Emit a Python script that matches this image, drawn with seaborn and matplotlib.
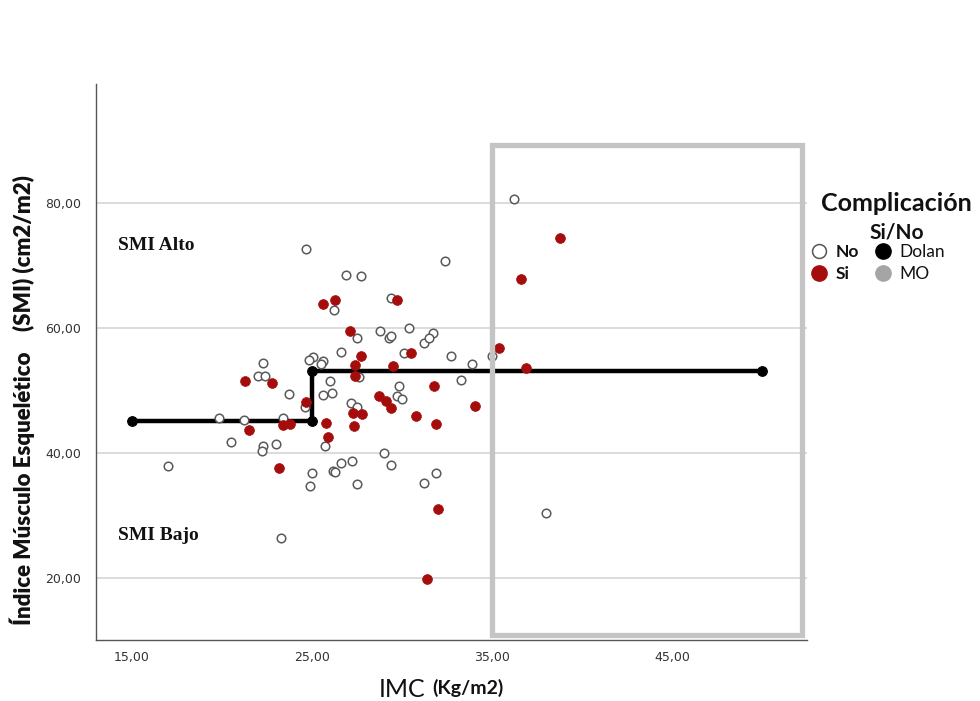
import matplotlib
matplotlib.use('Agg')
import matplotlib.pyplot as plt
import seaborn as sns
import pandas as pd
from matplotlib.patches import Rectangle
from matplotlib.lines import Line2D
from matplotlib.ticker import FuncFormatter

# ---- data ----
no_imc = [36.2, 24.65, 26.87, 27.7, 32.4, 26.2, 29.4, 27.5, 28.8, 29.3, 29.4, 30.4, 31.2,
          31.7, 31.5, 26.6, 30.1, 32.7, 35.0, 25.05, 24.85, 25.6, 25.5, 27.6, 33.9, 33.3,
          29.85, 29.7, 30.0, 26.0, 25.6, 26.1, 24.6, 27.15, 27.5, 22.3, 22.0, 22.4, 23.7,
          19.85, 21.2, 23.4, 20.5, 22.3, 22.2, 23.0, 25.7, 25.0, 24.9, 26.15, 26.3, 26.6,
          27.2, 27.5, 29.0, 29.4, 31.2, 31.9, 23.3, 17.0, 38.0]
no_smi = [80.6, 72.6, 68.4, 68.3, 70.6, 62.8, 64.7, 58.3, 59.5, 58.3, 58.6, 59.9, 57.6,
          59.2, 58.3, 56.1, 55.9, 55.4, 55.4, 55.3, 54.8, 54.6, 54.1, 52.1, 54.2, 51.6,
          50.6, 49.0, 48.5, 51.5, 49.2, 49.6, 47.25, 48.0, 47.25, 54.35, 52.2, 52.3, 49.3,
          45.5, 45.25, 45.55, 41.65, 41.0, 40.2, 41.4, 41.0, 36.8, 34.6, 37.0, 36.85, 38.4,
          38.6, 35.0, 39.9, 38.0, 35.2, 36.7, 26.3, 37.9, 30.4]

si_imc = [38.8, 36.6, 35.4, 36.9, 25.6, 26.3, 29.7, 27.1, 27.7, 30.5, 27.4, 27.4, 29.5,
          31.8, 24.65, 28.7, 29.1, 29.4, 27.3, 27.8, 30.8, 34.05, 25.8, 27.35, 31.9, 21.5,
          23.4, 23.75, 25.9, 23.15, 32.0, 31.4, 21.3, 22.8]
si_smi = [74.4, 67.8, 56.8, 53.6, 63.7, 64.4, 64.4, 59.4, 55.5, 56.0, 54.0, 52.3, 53.8,
          50.7, 48.05, 49.0, 48.3, 47.1, 46.3, 46.2, 45.8, 47.4, 44.75, 44.3, 44.6, 43.6,
          44.4, 44.6, 42.5, 37.6, 31.0, 19.7, 51.4, 51.15]

dolan_imc = [15, 25, 25, 50]
dolan_smi = [45, 45, 53, 53]

x_ticks = [15, 25, 35, 45]
y_ticks = [20, 40, 60, 80]

RED = '#a50d0d'

sns.set_theme(style='white')
plt.rcParams['font.family'] = ['Lato', 'DejaVu Sans']

fig = plt.figure(figsize=(9.8, 7.01), dpi=100)
ax = fig.add_axes([0.098, 0.087, 0.7255, 0.7935])

ax.set_xlim(13, 52.5)
ax.set_ylim(10, 99)

# Dolan cut-off line
sns.lineplot(x=dolan_imc, y=dolan_smi, ax=ax, estimator=None, sort=False,
             color='black', linewidth=3.2, marker='o', markersize=7,
             markeredgecolor='black', zorder=3, legend=False)

df_no = pd.DataFrame({'IMC': no_imc, 'SMI': no_smi})
df_si = pd.DataFrame({'IMC': si_imc, 'SMI': si_smi})
sns.scatterplot(data=df_no, x='IMC', y='SMI', ax=ax, s=38, color='white',
                edgecolor='#5a5a5a', linewidth=1.1, zorder=4, legend=False)
sns.scatterplot(data=df_si, x='IMC', y='SMI', ax=ax, s=50, color=RED,
                edgecolor=RED, linewidth=0.5, zorder=5, legend=False)

# grey box for obesity region
ax.add_patch(Rectangle((35, 10.8), 17.2, 78.4, fill=False, edgecolor='#c4c4c4',
                       linewidth=3.8, zorder=6, clip_on=False))

# axes styling
ax.set_xticks(x_ticks)
ax.set_yticks(y_ticks)
fmt = FuncFormatter(lambda v, p: f"{v:.2f}".replace('.', ','))
ax.xaxis.set_major_formatter(fmt)
ax.yaxis.set_major_formatter(fmt)
ax.tick_params(axis='both', length=0, labelsize=9, labelcolor='#333333')
ax.tick_params(axis='y', pad=11)
ax.tick_params(axis='x', pad=8)
for lab in ax.get_xticklabels() + ax.get_yticklabels():
    lab.set_family('DejaVu Sans')
ax.yaxis.grid(True, color='#d6d6d6', linewidth=1.2)
ax.xaxis.grid(False)
ax.set_axisbelow(True)
for side in ['top', 'right']:
    ax.spines[side].set_visible(False)
for side in ['left', 'bottom']:
    ax.spines[side].set_color('#555555')
    ax.spines[side].set_linewidth(1.0)
ax.set_xlabel('')
ax.set_ylabel('')

# region annotations
ax.text(14.2, 73.1, 'SMI Alto', family='Liberation Serif', fontweight='bold',
        fontsize=14, va='center', ha='left', color='#111111')
ax.text(14.2, 26.7, 'SMI Bajo', family='Liberation Serif', fontweight='bold',
        fontsize=14, va='center', ha='left', color='#111111')

# axis titles
fig.text(0.023, 0.43, 'Índice Músculo Esquelético    (SMI) (cm2/m2)', rotation=90,
         fontsize=16, fontweight='heavy', ha='center', va='center', color='#111111')
fig.text(0.386, 0.017, 'IMC', fontsize=18, ha='left', va='center', color='#111111')
fig.text(0.441, 0.019, '(Kg/m2)', fontsize=14, fontweight='bold', ha='left',
         va='center', color='#111111')

# legend
fig.text(0.915, 0.709, 'Complicación', fontsize=18, fontweight='bold', ha='center',
         va='center', color='#111111')
fig.text(0.915, 0.669, 'Si/No', fontsize=15, fontweight='bold', ha='center',
         va='center', color='#111111')
handles = [
    Line2D([], [], marker='o', linestyle='', markerfacecolor='white',
           markeredgecolor='#555555', markeredgewidth=1.1, markersize=10),
    Line2D([], [], marker='o', linestyle='', markerfacecolor=RED,
           markeredgecolor=RED, markersize=11),
    Line2D([], [], marker='o', linestyle='', markerfacecolor='black',
           markeredgecolor='black', markersize=11),
    Line2D([], [], marker='o', linestyle='', markerfacecolor='#a5a5a5',
           markeredgecolor='#a5a5a5', markersize=11),
]
labels = ['No', 'Si', 'Dolan', 'MO']
leg = ax.legend(handles, labels, ncol=2, loc='upper left',
                bbox_to_anchor=(0.828, 0.652), bbox_transform=fig.transFigure,
                frameon=False, handlelength=0.9, handletextpad=0.5,
                columnspacing=0.9, labelspacing=0.35, fontsize=12.5,
                borderaxespad=0, borderpad=0)
for t in leg.get_texts():
    if t.get_text() in ('No', 'Si'):
        t.set_fontweight('bold')
    t.set_color('#111111')

fig.savefig('out.png', dpi=100)
